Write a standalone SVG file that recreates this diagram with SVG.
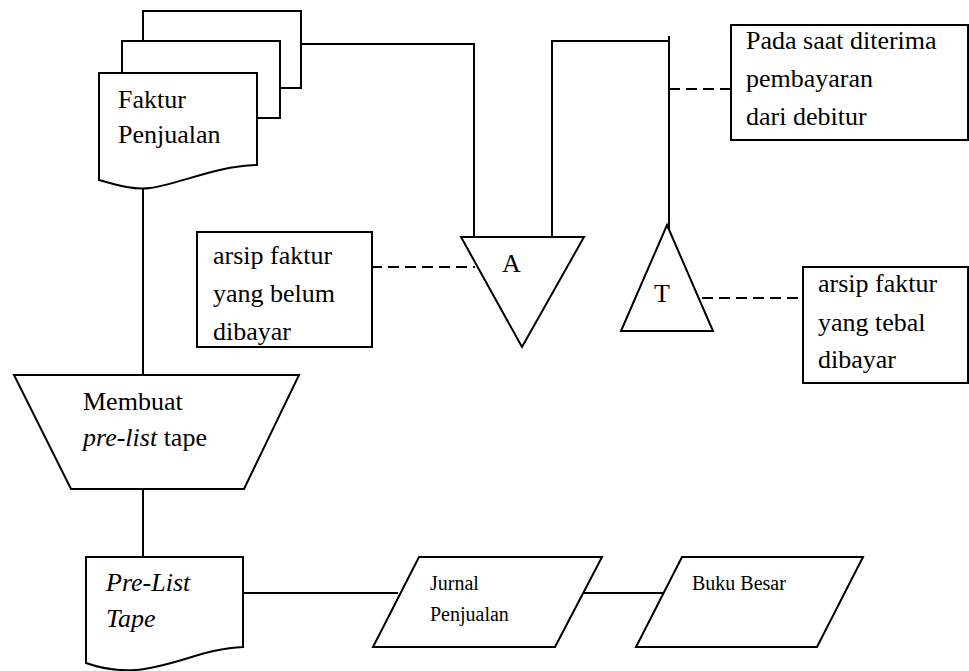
<svg xmlns="http://www.w3.org/2000/svg" width="969" height="671" viewBox="0 0 969 671">
  <style>
    .shape { fill: #fff; stroke: #000; stroke-width: 2; }
    .line { fill: none; stroke: #000; stroke-width: 2; }
    .dash { fill: none; stroke: #000; stroke-width: 2; stroke-dasharray: 11 6; }
    .t { font-family: "Liberation Serif", "Times New Roman", serif; font-size: 26px; fill: #000; }
    .small { font-size: 20px; }
    .it { font-style: italic; }
  </style>

  <!-- connectors -->
  <g id="connectors">
    <polyline class="line" points="301,44 474,44 474,237"/>
    <polyline class="line" points="552,237 552,41 669,41"/>
    <line class="line" x1="669" y1="36" x2="669" y2="236"/>
    <line class="line" x1="143" y1="187" x2="143" y2="376"/>
    <line class="line" x1="143" y1="489" x2="143" y2="557"/>
    <line class="line" x1="243" y1="593" x2="398" y2="593"/>
    <line class="line" x1="583" y1="593" x2="663" y2="593"/>
    <line class="dash" x1="371" y1="267" x2="475" y2="267"/>
    <line class="dash" x1="669" y1="89" x2="731" y2="89"/>
    <line class="dash" x1="702" y1="298" x2="803" y2="298"/>
  </g>

  <!-- stacked sales invoice copies -->
  <g id="faktur-penjualan">
    <rect class="shape" x="143" y="11" width="158" height="77"/>
    <rect class="shape" x="122" y="41" width="158" height="77"/>
    <path class="shape" d="M99,73 H257 V165 C215,166 180,184 150,188 C135,190 120,186 99,180 Z"/>
    <text class="t" x="118" y="108">Faktur</text>
    <text class="t" x="118" y="143">Penjualan</text>
  </g>

  <!-- file A -->
  <g id="arsip-a">
    <polygon class="shape" points="461,237 584,237 522,347"/>
    <text class="t" x="502" y="272">A</text>
  </g>

  <!-- file T -->
  <g id="arsip-t">
    <polygon class="shape" points="667,225 713,331 621,331"/>
    <text class="t" x="654" y="302">T</text>
  </g>

  <g id="note-pembayaran">
    <rect class="shape" x="731" y="25" width="237" height="115"/>
    <text class="t" x="746" y="49">Pada saat diterima</text>
    <text class="t" x="746" y="87">pembayaran</text>
    <text class="t" x="746" y="125">dari debitur</text>
  </g>

  <g id="note-belum-dibayar">
    <rect class="shape" x="197" y="232" width="175" height="115"/>
    <text class="t" x="213" y="264">arsip faktur</text>
    <text class="t" x="213" y="302">yang belum</text>
    <text class="t" x="213" y="340">dibayar</text>
  </g>

  <g id="note-tebal-dibayar">
    <rect class="shape" x="803" y="267" width="165" height="116"/>
    <text class="t" x="818" y="292">arsip faktur</text>
    <text class="t" x="818" y="331">yang tebal</text>
    <text class="t" x="818" y="368">dibayar</text>
  </g>

  <!-- manual operation -->
  <g id="membuat-pre-list">
    <polygon class="shape" points="14,375 299,375 244,489 71,489"/>
    <text class="t" x="83" y="410">Membuat</text>
    <text class="t" x="83" y="446"><tspan class="it">pre-list</tspan> tape</text>
  </g>

  <g id="pre-list-tape">
    <path class="shape" d="M86,557 H243 V647 C205,648 170,668 135,670 C118,671 100,668 86,663 Z"/>
    <text class="t it" x="106" y="591">Pre-List</text>
    <text class="t it" x="106" y="627">Tape</text>
  </g>

  <g id="jurnal-penjualan">
    <polygon class="shape" points="419,557 602,557 555,647 373,647"/>
    <text class="t small" x="430" y="590">Jurnal</text>
    <text class="t small" x="430" y="621">Penjualan</text>
  </g>

  <g id="buku-besar">
    <polygon class="shape" points="682,557 863,557 817,647 636,647"/>
    <text class="t small" x="692" y="590">Buku Besar</text>
  </g>
</svg>
